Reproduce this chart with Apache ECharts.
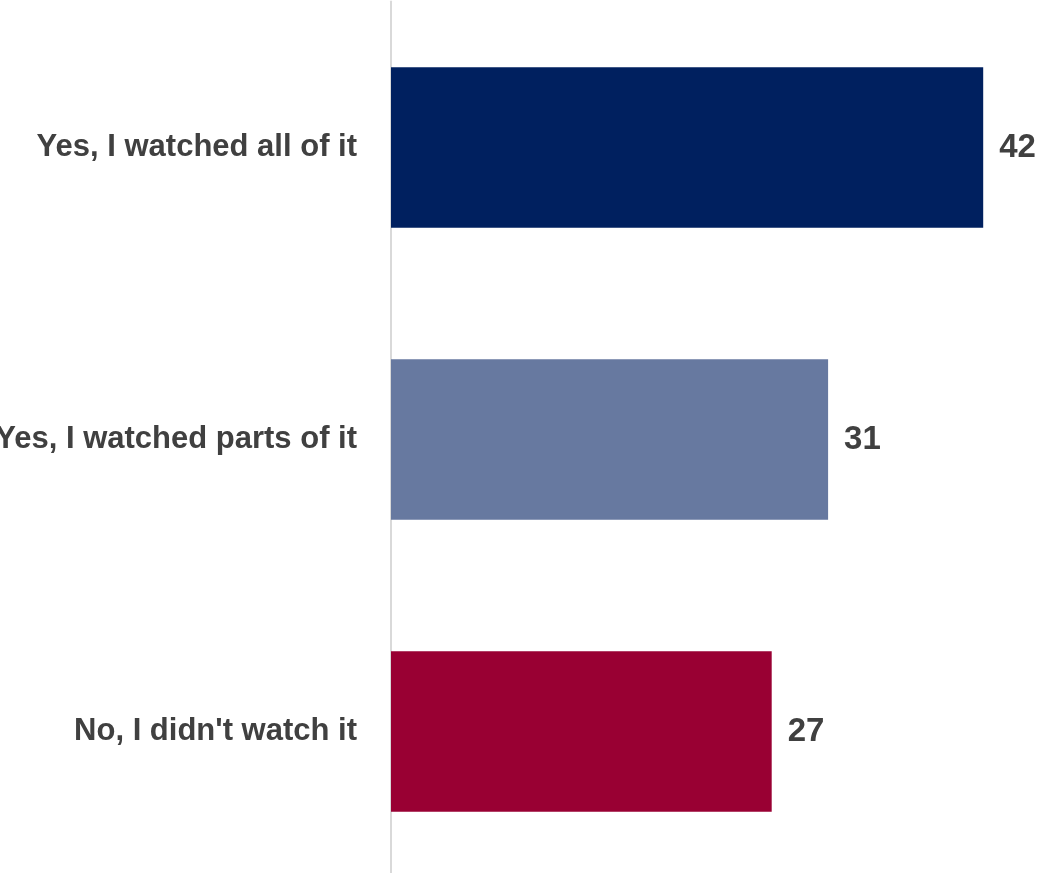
<!DOCTYPE html>
<html>
<head>
<meta charset="utf-8">
<script src="https://cdn.jsdelivr.net/npm/echarts@6/dist/echarts.min.js"></script>
<style>
html,body{margin:0;padding:0;background:#fff;}
#chart{width:1043px;height:873px;}
</style>
</head>
<body>
<div id="chart"></div>
<script>
const categories = ["Yes, I watched all of it", "Yes, I watched parts of it", "No, I didn't watch it"];
const values = [42, 31, 27];
const barColors = ["#00205F", "#6779A0", "#990033"];

const chart = echarts.init(document.getElementById('chart'), null, {renderer: 'canvas'});
chart.setOption({
  animation: false,
  backgroundColor: '#ffffff',
  grid: {left: 391, right: 17.5, top: 1.5, bottom: -4.5, containLabel: false, outerBoundsMode: 'none'},
  xAxis: {
    type: 'value', min: 0, max: 45, show: false
  },
  yAxis: {
    type: 'category', inverse: true, data: categories,
    axisLine: {show: true, lineStyle: {color: '#D9D9D9', width: 2}},
    axisTick: {show: false},
    axisLabel: {
      margin: 34,
      color: '#404040',
      fontFamily: '"Liberation Sans", Arial, sans-serif',
      fontWeight: 'bold',
      fontSize: 31
    }
  },
  series: [{
    type: 'bar',
    data: values.map((v, i) => ({value: v, itemStyle: {color: barColors[i]}})),
    barCategoryGap: '45%',
    label: {
      show: true, position: 'right', distance: 16,
      color: '#404040',
      fontFamily: '"Liberation Sans", Arial, sans-serif',
      fontWeight: 'bold',
      fontSize: 33
    }
  }]
});
</script>
</body>
</html>
